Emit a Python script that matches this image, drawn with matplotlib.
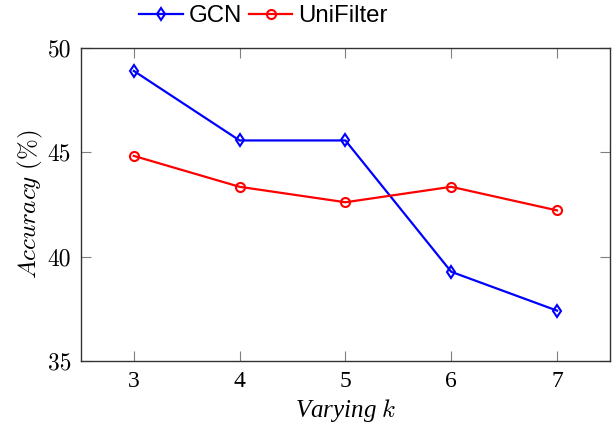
import matplotlib.pyplot as plt

plt.rcParams['mathtext.fontset'] = 'cm'

k = [3, 4, 5, 6, 7]
gcn = [48.9, 45.57, 45.57, 39.28, 37.42]
unifilter = [44.83, 43.35, 42.61, 43.35, 42.22]
yticks = [35, 40, 45, 50]

fig = plt.figure(figsize=(6.13, 4.32), dpi=100)
ax = fig.add_axes([0.132, 0.164, 0.863, 0.725])

ax.plot(k, gcn, c='blue', lw=1.6, marker='d', ms=6, mfc='none', mew=1.5, label='GCN')
ax.plot(k, unifilter, c='red', lw=1.6, marker='o', ms=6.5, mfc='none', mew=1.5, label='UniFilter')

ax.set_xlim(2.5, 7.5)
ax.set_ylim(35, 50)
ax.set_xticks(k)
ax.set_yticks(yticks)
ax.set_xticklabels([str(v) for v in k], fontfamily='Liberation Serif', fontsize=17)
ax.set_yticklabels([str(v) for v in yticks], fontfamily='cmr10', fontsize=17)

ax.tick_params(direction='in', length=7.5, width=0.8, color='gray', top=True, right=True, pad=7)
for s in ax.spines.values():
    s.set_linewidth(1.0)
    s.set_color('#333333')

ax.set_xlabel('Varying $k$', fontfamily='Liberation Serif', style='italic', fontsize=18, labelpad=4)
ax.set_ylabel(r'$\mathit{Accuracy\ (\%)}$', fontsize=18, labelpad=2)

fig.legend(loc='center', bbox_to_anchor=(0.43, 0.963), ncol=2, frameon=False,
           prop={'family': 'Liberation Sans', 'size': 17.3}, handlelength=1.8,
           handletextpad=0.25, columnspacing=0.3, borderpad=0.1)

fig.savefig('out.png', dpi=100)
